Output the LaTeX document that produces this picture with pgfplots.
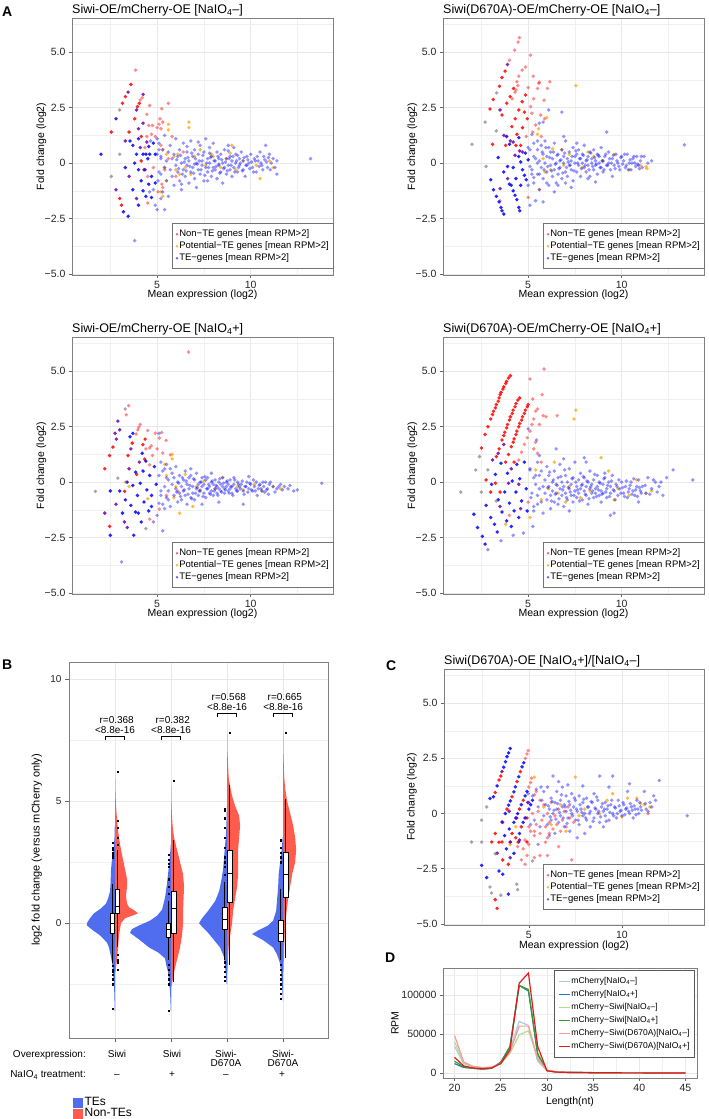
\documentclass[border=0pt]{standalone}
\usepackage{fontspec}
\setmainfont{Liberation Sans}
\usepackage{pgfplots}
\pgfplotsset{compat=1.18}
\usepgfplotslibrary{statistics}
\definecolor{ptred}{RGB}{255,0,0}
\definecolor{ptorange}{RGB}{255,165,0}
\definecolor{ptblue}{RGB}{0,0,255}
\definecolor{ptpurple}{RGB}{110,0,170}
\definecolor{ptgray}{RGB}{135,125,135}
\definecolor{tesblue}{RGB}{79,109,238}
\definecolor{ntered}{RGB}{255,92,77}
\definecolor{dA}{HTML}{A6CEE3}
\definecolor{dB}{HTML}{1F78B4}
\definecolor{dC}{HTML}{B2DF8A}
\definecolor{dD}{HTML}{33A02C}
\definecolor{dE}{HTML}{FB9A99}
\definecolor{dF}{HTML}{E31A1C}
\pgfplotsset{
  gg/.style={scale only axis, anchor=south west,
    axis line style={black!50, line width=0.6pt},
    tick style={black!60, line width=0.5pt}, major tick length=3pt, minor tick length=0pt,
    tick align=outside, xtick pos=left, ytick pos=left,
    major grid style={black!9, line width=0.6pt}, minor grid style={black!6, line width=0.3pt},
    ticklabel style={font=\fontsize{10.5}{12}\selectfont, text=black!85},
    label style={font=\fontsize{10.5}{12}\selectfont},
    every axis title/.style={at={(axis description cs:0,1)}, anchor=base west, yshift=4.5pt, inner sep=0pt, font=\fontsize{12.5}{14}\selectfont}},
  ma/.style={gg, width=261pt, height=257pt, xmin=0.45, xmax=14.4, ymin=-5.05, ymax=6.55,
    xtick={5,10}, xticklabels={5,10}, ytick={-5,-2.5,0,2.5,5}, yticklabels={−5.0,−2.5,0,2.5,5.0},
    minor xtick={2.5,7.5,12.5}, minor ytick={-3.75,-1.25,1.25,3.75,6.25}, grid=both,
    xlabel={Mean expression (log2)}, ylabel={Fold change (log2)},
    xlabel style={at={(axis description cs:0.5,-0.078)}, anchor=center},
    ylabel style={at={(axis description cs:-0.117,0.5)}, anchor=center},
    legend cell align=left,
    legend style={at={(axis description cs:1,0)}, anchor=south east, yshift=6pt, draw=black!55, line width=0.5pt,
      font=\fontsize{9.5}{11}\selectfont, inner xsep=3pt, inner ysep=5pt, row sep=1pt,
      nodes={inner sep=1pt, text height=7pt, text depth=2pt}}},
  ptR/.style={only marks, mark=*, mark size=1.9pt, mark options={draw opacity=0, fill=ptred, fill opacity=0.45}, forget plot},
  ptRd/.style={only marks, mark=*, mark size=1.9pt, mark options={draw opacity=0, fill=ptred, fill opacity=0.85}, forget plot},
  ptO/.style={only marks, mark=*, mark size=1.9pt, mark options={draw opacity=0, fill=ptorange, fill opacity=0.75}, forget plot},
  ptB/.style={only marks, mark=*, mark size=1.9pt, mark options={draw opacity=0, fill=ptblue, fill opacity=0.42}, forget plot},
  ptBd/.style={only marks, mark=*, mark size=1.9pt, mark options={draw opacity=0, fill=ptblue, fill opacity=0.85}, forget plot},
  ptP/.style={only marks, mark=*, mark size=1.9pt, mark options={draw opacity=0, fill=ptpurple, fill opacity=0.85}, forget plot},
  ptG/.style={only marks, mark=*, mark size=1.9pt, mark options={draw opacity=0, fill=ptgray, fill opacity=0.7}, forget plot},
  bxp/.style={black, line width=0.6pt, mark=square*, mark size=0.6pt, mark options={fill=black, draw=black, line width=0.2pt},
    boxplot/draw direction=y, boxplot/box extend=0.08, boxplot/whisker extend=0,
    boxplot/every box/.style={draw=black, fill=white}, forget plot},
}
\newcommand{\malegend}{%
  \addlegendimage{only marks, mark=*, mark size=1.3pt, mark options={draw opacity=0, fill=ptred, fill opacity=0.6}}
  \addlegendentry{Non−TE genes [mean RPM>2]}
  \addlegendimage{only marks, mark=*, mark size=1.3pt, mark options={draw opacity=0, fill=ptorange, fill opacity=0.8}}
  \addlegendentry{Potential−TE genes [mean RPM>2]}
  \addlegendimage{only marks, mark=*, mark size=1.3pt, mark options={draw opacity=0, fill=ptblue, fill opacity=0.6}}
  \addlegendentry{TE−genes [mean RPM>2]}}
\begin{document}
\begin{tikzpicture}
\useasboundingbox (0pt,0pt) rectangle (709pt,1119pt);
\node[anchor=base west, inner sep=0pt, font=\fontsize{14}{16}\selectfont\bfseries] at (2pt,1102pt) {A};
\node[anchor=base west, inner sep=0pt, font=\fontsize{14}{16}\selectfont\bfseries] at (2pt,449pt) {B};
\node[anchor=base west, inner sep=0pt, font=\fontsize{14}{16}\selectfont\bfseries] at (386pt,448pt) {C};
\node[anchor=base west, inner sep=0pt, font=\fontsize{14}{16}\selectfont\bfseries] at (385pt,156pt) {D};

% ===== A1 =====
\begin{axis}[ma, at={(72pt,844pt)}, title={Siwi-OE/mCherry-OE [NaIO\textsubscript{4}–]}]
\malegend
\addplot[ptR] coordinates {(3.85,4.2)(4.1,2.85)(4.2,2.95)(4.45,2.2)(4.55,1.7)(4.6,2.6)(4.7,1.3)(4.75,1.7)(4.9,1.2)(5.0,1.6)(5.1,1.75)(5.15,2.0)(5.2,1.55)(5.25,2.45)(5.3,1.85)(5.6,2.7)(5.3,-1.1)(5.25,-0.95)(4.5,-1.8)(4.45,1.2)(4.35,0.7)(4.5,-0.6)(4.8,-0.2)(5.2,0.8)(5.05,-1.3)(5.4,-0.3)(5.6,0.2)(6.0,-0.6)(6.4,0.5)(5.8,1.2)};
\addplot[ptRd] coordinates {(2.55,1.4)(3.15,2.7)(3.3,3.0)(3.6,3.55)(3.5,1.4)(3.8,2.0)(3.0,-1.6)(3.1,-1.9)(4.15,0.1)(4.05,2.7)(3.95,2.55)(4.15,1.2)};
\addplot[ptO] coordinates {(5.3,0.6)(5.4,-0.2)(5.5,0.4)(5.6,1.5)(5.6,1.75)(6.7,1.85)(6.7,1.6)(5.3,-1.5)(5.2,-1.3)(5.9,0.3)(6.2,-0.5)(6.5,-0.2)(6.8,-0.5)(7.0,0.3)(7.3,0.6)(7.6,-0.1)(8.0,0.3)(8.4,-0.2)(8.7,0.2)(9.0,0.8)(9.2,-0.3)(9.6,0.1)(10.3,-0.1)(10.5,-0.7)(11.2,-0.2)(11.0,0.1)(5.5,-0.8)(6.1,0.4)(8.9,0.45)(7.9,0.4)(6.0,-0.3)};
\addplot[ptB] coordinates {(3.8,-3.5)(5.0,-2.1)(4.9,-1.9)(5.0,1.1)(5.1,0.6)(5.1,-0.4)(5.2,-1.6)(5.4,1.25)(5.05,-0.8)(5.2,0.2)(5.0,0.4)(4.8,-1.2)(4.6,-1.3)(4.65,1.0)
(5.1,0.9)(5.2,-0.5)(5.2,0.3)(5.3,-1.3)(5.3,0.6)(5.4,-0.2)(5.4,-2.1)(5.5,0.1)(5.5,-0.8)(5.6,0.5)(5.6,-1.5)(5.7,-0.3)(5.7,0.8)(5.8,0.2)(5.8,-0.6)(5.9,-1.0)(5.9,0.4)(6.0,-0.1)(6.0,1.1)(6.1,-0.4)(6.1,0.3)(6.2,-0.8)(6.2,0.6)(6.3,0.0)(6.3,-1.2)(6.4,0.9)(6.4,-0.3)(6.5,0.2)(6.5,-0.6)(6.6,-0.1)(6.6,0.5)(6.7,-0.9)(6.7,0.1)(6.8,-0.4)(6.8,1.0)(6.9,0.3)(6.9,-0.2)(7.0,-0.7)(7.0,0.6)(7.1,0.0)(7.1,-1.1)(7.2,0.4)(7.2,-0.3)(7.3,0.8)(7.3,-0.5)(7.4,0.1)(7.4,-0.1)(7.5,-0.8)(7.5,0.5)(7.6,1.1)(7.6,-0.2)(7.7,0.2)(7.7,-0.4)(7.8,0.0)(7.8,0.7)(7.9,-0.6)(7.9,0.3)(8.0,-0.2)(8.0,0.9)(8.1,0.1)(8.1,-0.3)(8.2,0.5)(8.2,-0.7)(8.3,-0.1)(8.3,0.2)(8.4,-0.4)(8.4,0.4)(8.5,0.0)(8.5,-0.9)(8.6,0.6)(8.6,-0.2)(8.7,0.2)(8.7,-0.5)(8.8,0.8)(8.8,-0.1)(8.9,0.3)(8.9,-0.3)(9.0,-0.6)(9.0,0.1)(9.1,0.7)(9.1,-0.2)(9.2,0.0)(9.2,0.4)(9.3,-0.4)(9.4,0.2)(9.4,-0.1)(9.5,0.5)(9.6,-0.3)(9.6,0.1)(9.7,-0.6)(9.8,0.3)(9.8,-0.1)(9.9,0.0)(10.0,0.4)(10.1,-0.2)(10.2,0.2)(10.3,-0.4)(10.4,0.1)(10.5,0.5)(10.6,-0.1)(10.7,0.3)(10.8,0.8)(10.9,-0.2)(11.0,0.4)(11.1,0.0)(11.2,0.2)(11.3,-0.2)(11.4,-0.5)(11.4,0.1)(13.2,0.2)
(6.05,0.15)(6.15,-0.25)(6.25,0.35)(6.35,-0.5)(6.45,0.05)(6.55,-0.35)(6.65,0.25)(6.75,-0.15)(6.85,0.45)(6.95,-0.45)(7.05,0.2)(7.15,-0.05)(7.25,0.1)(7.35,-0.3)(7.45,0.35)(7.55,-0.55)(7.65,0.0)(7.75,-0.2)(7.85,0.25)(7.95,-0.35)(8.05,0.1)(8.15,-0.15)(8.25,0.3)(8.35,-0.45)(8.45,0.15)(8.55,-0.25)(8.65,0.05)(8.75,-0.35)(8.85,0.2)(8.95,-0.1)(9.05,0.3)(9.15,-0.4)(9.25,0.1)(9.35,-0.2)(9.45,0.0)(9.55,-0.35)(9.65,0.25)(9.75,-0.1)(9.85,0.15)(9.95,-0.25)(10.05,0.05)(10.15,-0.4)(10.25,0.1)(10.35,0.3)(10.45,-0.15)(10.55,0.0)(10.65,-0.3)(10.75,0.15)(10.85,0.05)(10.95,0.25)(11.05,-0.3)(7.0,-0.05)(7.8,0.45)(8.3,-0.05)(8.8,0.55)(9.3,0.35)(6.6,0.75)(7.2,0.95)(6.3,-0.95)(7.7,-0.8)};
\addplot[ptBd] coordinates {(2.0,0.4)(2.8,2.0)(3.2,-2.2)(3.3,-0.2)(3.45,-2.4)(3.8,0.0)(3.9,0.4)(4.0,1.1)(4.0,-0.3)(4.0,-1.9)(4.15,-0.8)(4.25,0.4)(4.25,-1.25)(4.4,0.4)(4.4,-1.5)(4.5,0.2)(4.55,-0.95)(4.6,0.4)(4.7,-0.6)(4.7,-1.55)(4.8,0.9)(4.9,0.4)(4.9,-0.9)(3.7,-1.2)(3.55,1.0)(3.7,0.8)(4.35,-0.3)(4.55,0.75)};
\addplot[ptP] coordinates {(2.8,-1.2)(3.45,3.2)(3.3,1.0)(3.5,-0.6)(3.9,2.4)(3.9,-1.6)(4.25,3.1)(4.25,1.8)(4.0,1.55)(4.3,-0.3)(4.45,0.95)(4.1,0.7)};
\addplot[ptG] coordinates {(2.55,-0.6)(3.0,2.4)(3.0,0.4)};
\end{axis}

% ===== A2 =====
\begin{axis}[ma, at={(443pt,844pt)}, title={Siwi(D670A)-OE/mCherry-OE [NaIO\textsubscript{4}–]}]
\malegend
\addplot[ptR] coordinates {(4.0,4.64)(4.28,5.1)(4.46,5.46)(4.53,5.66)(4.4,3.67)(4.5,3.92)(4.68,4.2)(4.86,4.34)(5.0,3.41)(5.13,4.87)(5.27,3.92)(5.13,2.55)(5.3,2.9)(5.5,3.37)(5.58,3.6)(5.4,1.72)(5.67,2.17)(5.85,2.84)(6.03,3.37)(6.16,3.67)(5.88,2.0)(5.7,1.2)(3.5,-1.7)(5.0,-1.55)(5.6,3.65)(5.2,2.25)(5.25,1.4)(4.9,1.2)(4.3,3.2)(4.15,2.9)(4.45,3.5)(4.35,3.3)};
\addplot[ptRd] coordinates {(3.14,2.87)(3.47,3.47)(3.6,3.86)(3.77,4.15)(2.96,2.44)(3.1,0.85)(3.6,2.17)(3.86,2.7)(4.04,3.0)(4.22,3.37)(4.31,2.0)(4.5,2.4)(4.68,2.77)(4.86,3.07)(4.35,0.8)(4.4,1.3)(4.7,1.6)(4.95,2.0)(4.6,0.8)(4.13,1.65)(3.8,0.8)(4.8,2.3)};
\addplot[ptO] coordinates {(6.0,2.05)(5.55,1.55)(5.5,1.3)(7.55,3.5)(6.3,0.65)(6.8,0.6)(7.2,0.4)(5.8,0.2)(6.2,-0.3)(8.5,0.3)(9.0,0.1)(11.0,-0.1)(11.3,-0.15)(11.35,-0.25)(10.4,-0.3)(7.9,-0.2)(5.6,-1.2)(6.9,-0.1)(9.6,0.4)(5.9,-0.4)(8.2,0.5)};
\addplot[ptB] coordinates {(5.0,-1.0)(5.1,-0.15)(5.2,-0.5)(5.3,-0.65)(5.4,-1.7)(5.8,-1.75)(5.0,0.7)(5.3,0.3)(5.5,0.0)(6.1,2.4)(6.8,2.3)(5.8,1.85)(9.2,1.4)(13.35,0.82)(5.6,1.8)(5.5,1.0)(5.2,1.3)(5.1,-1.9)
(5.1,0.6)(5.2,-0.3)(5.3,0.9)(5.3,-0.9)(5.4,0.2)(5.5,-0.5)(5.5,0.6)(5.6,-1.2)(5.6,0.1)(5.7,0.8)(5.7,-0.2)(5.8,-0.7)(5.8,0.4)(5.9,0.0)(5.9,1.0)(6.0,-0.4)(6.0,0.3)(6.1,-1.0)(6.1,0.7)(6.2,-0.1)(6.2,0.5)(6.3,-0.6)(6.3,0.2)(6.4,-0.3)(6.4,0.9)(6.5,0.0)(6.5,-0.9)(6.6,0.4)(6.6,-0.5)(6.7,0.1)(6.7,-0.2)(6.8,0.6)(6.8,-0.7)(6.9,0.0)(6.9,0.3)(7.0,-0.4)(7.0,1.0)(7.1,0.2)(7.1,-0.6)(7.2,-0.1)(7.2,0.5)(7.3,-0.3)(7.3,0.1)(7.4,0.7)(7.4,-0.8)(7.5,0.0)(7.5,0.3)(7.6,-0.4)(7.6,0.4)(7.7,-0.1)(7.7,0.6)(7.8,0.2)(7.8,-0.6)(7.9,0.0)(7.9,0.4)(8.0,-0.2)(8.0,0.8)(8.1,0.1)(8.1,-0.4)(8.2,0.3)(8.2,-0.1)(8.3,-0.6)(8.3,0.5)(8.4,0.0)(8.4,0.2)(8.5,-0.3)(8.5,0.6)(8.6,0.1)(8.6,-0.1)(8.7,0.4)(8.7,-0.5)(8.8,0.0)(8.8,0.3)(8.9,-0.2)(8.9,0.7)(9.0,0.1)(9.0,-0.4)(9.1,0.3)(9.2,-0.1)(9.3,0.5)(9.3,0.0)(9.4,-0.3)(9.5,0.2)(9.6,-0.1)(9.7,0.4)(9.8,0.0)(9.9,-0.3)(10.0,0.3)(10.1,0.1)(10.2,-0.2)(10.3,0.4)(10.4,0.0)(10.5,-0.3)(10.6,0.2)(10.7,0.0)(10.8,0.3)(10.9,-0.1)(11.0,0.1)(11.1,-0.2)(11.2,0.3)(11.4,0.0)(11.6,0.1)(7.0,-0.9)(6.6,-1.0)(6.0,-0.9)(8.2,-0.7)(9.5,-0.6)
(6.05,-0.15)(6.15,0.25)(6.25,-0.35)(6.35,0.5)(6.45,-0.05)(6.55,0.35)(6.65,-0.25)(6.75,0.15)(6.85,-0.45)(6.95,0.45)(7.05,-0.2)(7.15,0.05)(7.25,-0.1)(7.35,0.3)(7.45,-0.35)(7.55,0.55)(7.65,0.0)(7.75,0.2)(7.85,-0.25)(7.95,0.35)(8.05,-0.1)(8.15,0.15)(8.25,-0.3)(8.35,0.45)(8.45,-0.15)(8.55,0.25)(8.65,-0.05)(8.75,0.35)(8.85,-0.2)(8.95,0.1)(9.05,-0.3)(9.15,0.4)(9.25,-0.1)(9.35,0.2)(9.45,0.0)(9.55,0.35)(9.65,-0.25)(9.75,0.1)(9.85,-0.15)(9.95,0.25)(10.05,-0.05)(10.15,0.4)(10.25,-0.1)(10.35,-0.3)(10.45,0.15)(10.55,0.0)(10.65,0.3)(10.75,-0.15)(10.85,-0.05)(10.95,-0.25)(11.05,0.3)(6.4,-1.3)(7.3,-1.1)(8.6,-0.85)(6.9,1.2)(7.6,0.9)(5.6,-0.5)(5.75,0.5)(5.85,-0.3)(5.95,0.7)};
\addplot[ptBd] coordinates {(3.0,-0.75)(3.15,-1.2)(3.3,-1.5)(3.45,-1.75)(3.55,-2.0)(3.6,-2.15)(3.7,-2.3)(3.4,0.25)(3.7,-0.4)(3.85,1.2)(4.0,0.85)(3.9,-0.15)(4.0,-0.95)(4.1,-1.0)(4.2,-1.25)(4.3,-1.45)(4.4,-1.65)(4.5,-2.0)(4.55,-2.15)(4.5,0.3)(4.6,0.05)(4.7,-0.3)(4.8,-0.55)(4.9,-0.75)(4.5,1.15)(4.85,0.45)(5.0,0.15)(4.2,-0.2)(4.35,-0.7)(4.6,-1.0)};
\addplot[ptP] coordinates {(3.9,4.45)(3.5,2.4)(3.7,1.25)(4.05,1.0)(4.2,0.95)(4.55,0.55)(4.7,0.5)(3.5,-1.15)(4.3,0.35)(3.9,-0.7)};
\addplot[ptG] coordinates {(2.0,0.85)(2.7,1.85)(2.75,-0.15)(3.3,1.45)(3.32,3.17)};
\end{axis}

% ===== A3 =====
\begin{axis}[ma, at={(72pt,525pt)}, title={Siwi-OE/mCherry-OE [NaIO\textsubscript{4}+]}]
\malegend
\addplot[ptR] coordinates {(3.35,3.04)(3.48,3.45)(3.88,2.17)(4.02,2.48)(4.1,2.6)(3.97,2.36)(4.5,2.33)(4.6,1.54)(4.68,1.64)(4.9,2.21)(5.12,1.99)(5.25,2.24)(5.48,1.88)(5.71,1.23)(5.3,1.31)(4.6,0.78)(6.68,5.87)(4.6,-1.67)(5.12,-1.22)(4.75,1.2)(5.0,1.5)(4.4,1.5)(5.5,-0.6)(6.1,-0.4)};
\addplot[ptRd] coordinates {(2.2,0.6)(2.46,1.2)(2.64,1.58)(2.46,-2.0)(3.44,1.2)(3.67,1.76)(4.24,1.69)(4.36,1.94)(4.33,1.04)(3.26,-0.42)(3.9,0.35)};
\addplot[ptO] coordinates {(5.8,1.25)(5.8,1.05)(5.4,0.8)(5.5,0.3)(6.0,-0.2)(5.9,-0.7)(6.2,-1.4)(6.9,-1.1)(6.5,0.35)(7.1,-0.2)(7.5,0.05)(8.1,-0.3)(8.5,0.2)(9.3,-0.2)(9.6,-0.35)(10.2,-0.1)(10.6,-0.4)(11.2,-0.2)(11.6,-0.3)(3.3,0.0)(3.5,-0.2)(4.5,-0.75)(7.3,-0.35)};
\addplot[ptB] coordinates {(3.1,-3.6)(4.8,-1.8)(5.1,-0.95)(5.1,2.2)(5.3,-2.2)(5.0,-1.5)(5.2,0.9)(5.2,-0.4)(5.4,0.6)(5.4,-1.2)(5.5,0.2)(5.6,-0.8)(13.8,-0.05)
(5.1,0.3)(5.2,-0.6)(5.3,0.5)(5.3,-1.0)(5.4,-0.2)(5.5,0.8)(5.5,-0.7)(5.6,0.1)(5.6,-0.4)(5.7,0.6)(5.7,-1.1)(5.8,-0.1)(5.8,0.4)(5.9,-0.6)(5.9,0.2)(6.0,-0.3)(6.0,0.7)(6.1,-0.9)(6.1,0.0)(6.2,-0.5)(6.2,0.3)(6.3,-0.2)(6.3,-0.8)(6.4,0.1)(6.4,-0.4)(6.5,0.5)(6.5,-0.6)(6.6,-0.1)(6.6,-1.0)(6.7,0.2)(6.7,-0.3)(6.8,-0.7)(6.8,0.3)(6.9,-0.2)(6.9,-0.5)(7.0,0.1)(7.0,-0.8)(7.1,-0.3)(7.1,0.4)(7.2,-0.1)(7.2,-0.6)(7.3,0.0)(7.3,-0.4)(7.4,-0.2)(7.4,0.2)(7.5,-0.5)(7.5,-0.1)(7.6,0.1)(7.6,-0.7)(7.7,-0.3)(7.7,0.2)(7.8,-0.2)(7.8,-0.5)(7.9,0.0)(7.9,-0.4)(8.0,-0.1)(8.0,-0.6)(8.1,-0.3)(8.1,0.1)(8.2,-0.2)(8.2,-0.5)(8.3,0.0)(8.3,-0.3)(8.4,-0.4)(8.4,-0.1)(8.5,-0.2)(8.5,0.2)(8.6,-0.5)(8.6,-0.3)(8.7,0.0)(8.7,-0.2)(8.8,-0.4)(8.8,-0.1)(8.9,-0.3)(8.9,0.1)(9.0,-0.2)(9.0,-0.5)(9.1,-0.1)(9.2,-0.3)(9.3,0.0)(9.3,-0.4)(9.4,-0.2)(9.5,-0.1)(9.6,-0.4)(9.6,-1.0)(9.7,-0.2)(9.8,0.0)(9.9,-0.3)(10.0,-0.1)(10.1,-0.4)(10.2,-0.2)(10.3,0.0)(10.4,-0.3)(10.5,-0.1)(10.6,-0.4)(10.7,-0.2)(10.8,0.0)(10.9,-0.3)(11.0,-0.1)(11.2,-0.2)(11.4,-0.3)(11.6,-0.1)(11.8,-0.2)(12.0,-0.3)(12.3,-0.4)(9.1,0.2)(7.9,0.4)
(6.05,-0.45)(6.15,-0.05)(6.25,-0.65)(6.35,0.2)(6.45,-0.35)(6.55,0.05)(6.65,-0.55)(6.75,-0.15)(6.85,-0.75)(6.95,0.15)(7.05,-0.5)(7.15,-0.25)(7.25,-0.4)(7.35,0.0)(7.45,-0.65)(7.55,0.25)(7.65,-0.3)(7.75,-0.1)(7.85,-0.55)(7.95,0.05)(8.05,-0.4)(8.15,-0.15)(8.25,-0.6)(8.35,0.15)(8.45,-0.45)(8.55,-0.05)(8.65,-0.35)(8.75,0.05)(8.85,-0.5)(8.95,-0.2)(9.05,-0.6)(9.15,0.1)(9.25,-0.4)(9.35,-0.1)(9.45,-0.3)(9.55,0.05)(9.65,-0.55)(9.75,-0.2)(9.85,-0.45)(9.95,-0.05)(10.05,-0.35)(10.15,0.1)(10.25,-0.4)(10.35,-0.6)(10.45,-0.15)(10.55,-0.3)(10.65,0.0)(10.75,-0.45)(10.85,-0.35)(10.95,-0.55)(11.05,0.0)(11.3,-0.45)(11.5,-0.2)(11.7,-0.35)(12.1,-0.15)(12.5,-0.35)(7.4,-1.0)(8.3,-0.9)(6.8,0.6)(9.9,0.25)};
\addplot[ptBd] coordinates {(2.5,-0.4)(2.5,-2.4)(3.0,-0.4)(3.15,-1.4)(3.3,-0.8)(3.6,-1.05)(3.7,-0.15)(3.75,-2.4)(3.85,0.45)(3.85,-1.35)(3.95,-0.6)(4.1,-0.05)(4.15,-1.8)(4.25,0.5)(4.3,-0.9)(4.4,0.95)(4.45,-0.35)(4.55,-1.3)(4.6,0.3)(4.7,-0.6)(4.85,0.7)(4.95,-0.1)(3.7,2.2)(3.55,2.05)(4.0,-1.4)(4.7,-1.1)(4.2,1.3)(3.4,0.0)};
\addplot[ptP] coordinates {(2.82,1.94)(2.9,2.75)(2.75,2.2)(3.0,2.36)(2.2,-1.4)(2.8,-1.0)(3.25,-1.8)(3.4,-2.05)(3.5,0.6)(4.05,0.9)(3.6,1.5)};
\addplot[ptG] coordinates {(1.7,-0.42)(2.9,0.18)(3.3,3.3)(4.4,-2.1)};
\end{axis}

% ===== A4 =====
\begin{axis}[ma, at={(443pt,525pt)}, title={Siwi(D670A)-OE/mCherry-OE [NaIO\textsubscript{4}+]}]
\malegend
\addplot[ptR] coordinates {(4.5,1.0)(4.65,1.35)(4.8,1.7)(4.95,2.0)(5.1,2.3)(5.2,2.6)(5.3,2.85)(5.4,3.2)(5.85,5.1)(5.1,4.65)(5.25,3.75)(5.8,3.0)(5.95,2.95)(6.55,3.0)(5.75,3.95)(5.6,2.6)(5.3,1.5)(5.5,1.3)(5.7,0.9)(5.0,-0.9)(4.0,-1.5)(5.5,3.3)(5.4,1.8)};
\addplot[ptRd] coordinates {(2.51,1.54)(2.7,2.15)(2.85,2.5)(3.0,2.85)(3.1,3.05)(3.15,3.2)(3.25,3.35)(3.3,3.5)(3.4,3.65)(3.45,3.8)(3.5,3.95)(3.55,4.05)(3.65,4.2)(3.7,4.3)(3.8,4.45)(3.85,4.55)(3.95,4.7)(4.05,4.8)
(3.3,1.15)(3.45,1.5)(3.6,1.9)(3.7,2.1)(3.75,2.25)(3.85,2.45)(3.9,2.6)(4.0,2.8)(4.05,2.95)(4.15,3.1)(4.2,3.25)(4.3,3.4)(4.35,3.55)(4.45,3.7)(4.55,3.8)
(3.8,0.9)(3.95,1.25)(4.1,1.6)(4.2,1.8)(4.25,1.95)(4.35,2.15)(4.4,2.3)(4.5,2.5)(4.55,2.65)(4.65,2.8)(4.7,2.95)(4.8,3.1)(4.85,3.25)(4.95,3.4)(5.0,3.5)
(2.75,0.1)(3.25,-0.05)(3.5,-0.45)(3.0,-0.45)(4.25,0.9)};
\addplot[ptO] coordinates {(7.55,3.25)(7.45,2.85)(8.9,1.1)(6.4,0.9)(5.4,0.55)(5.7,-0.8)(3.8,-1.9)(5.1,-1.6)(6.6,-0.5)(7.2,-0.2)(7.8,-0.7)(8.3,-0.4)(9.3,0.5)(9.8,-0.3)(10.4,-0.6)(11.3,-0.5)(11.6,-0.4)(9.6,-0.8)(10.8,0.1)(6.1,-0.3)(7.0,-0.9)};
\addplot[ptB] coordinates {(2.85,-3.05)(3.55,-2.65)(4.75,-2.3)(5.0,2.4)(5.1,0.55)(5.15,-0.7)(5.25,-2.0)(5.45,1.9)(5.5,-1.0)(5.6,1.2)(6.5,1.5)(4.2,-2.4)(12.75,0.55)(13.8,0.1)(5.3,-1.3)(5.4,0.3)
(5.1,0.6)(5.2,-0.5)(5.3,0.2)(5.3,-1.1)(5.4,-0.1)(5.5,0.9)(5.5,-0.6)(5.6,0.3)(5.6,-0.3)(5.7,-0.9)(5.7,0.5)(5.8,-0.2)(5.8,-1.4)(5.9,0.1)(5.9,-0.5)(6.0,0.7)(6.0,-0.8)(6.1,-0.2)(6.1,0.3)(6.2,-0.6)(6.2,-1.2)(6.3,0.0)(6.3,-0.4)(6.4,0.5)(6.4,-0.9)(6.5,-0.1)(6.5,-0.5)(6.6,0.2)(6.6,-1.0)(6.7,-0.3)(6.7,0.8)(6.8,-0.6)(6.8,0.0)(6.9,-0.2)(6.9,-1.1)(7.0,0.3)(7.0,-0.5)(7.1,-0.8)(7.1,0.0)(7.2,-0.3)(7.2,0.6)(7.3,-0.6)(7.3,-0.1)(7.4,0.2)(7.4,-0.9)(7.5,-0.4)(7.5,0.9)(7.6,-0.2)(7.6,-0.7)(7.7,0.1)(7.7,-0.5)(7.8,-0.3)(7.8,0.4)(7.9,-0.8)(7.9,-0.1)(8.0,-0.4)(8.0,0.2)(8.1,-0.6)(8.1,-0.2)(8.2,0.0)(8.2,-1.0)(8.3,-0.3)(8.3,0.5)(8.4,-0.5)(8.4,-0.1)(8.5,-0.7)(8.5,0.1)(8.6,-0.3)(8.6,-0.5)(8.7,0.3)(8.7,-0.2)(8.8,-0.6)(8.8,0.0)(8.9,-0.4)(8.9,-0.9)(9.0,-0.1)(9.0,-0.5)(9.1,0.2)(9.2,-0.3)(9.2,-0.7)(9.3,0.0)(9.4,-0.5)(9.4,-0.2)(9.5,0.3)(9.6,-0.4)(9.7,-0.1)(9.8,-0.6)(9.9,-0.3)(10.0,0.0)(10.1,-0.5)(10.2,-0.2)(10.3,-0.7)(10.4,-0.3)(10.5,0.0)(10.6,-0.4)(10.7,-0.6)(10.8,-0.2)(10.9,0.1)(11.0,-0.4)(11.1,-0.2)(11.3,-0.5)(11.4,0.2)(11.6,-0.3)(11.8,0.0)(12.0,-0.2)(12.2,-0.6)(12.4,0.2)(9.6,-1.4)(7.2,-1.3)(8.1,0.9)(9.1,0.4)
(6.05,-0.25)(6.15,0.45)(6.25,-0.85)(6.35,0.1)(6.45,-0.55)(6.55,-0.15)(6.65,-0.75)(6.75,0.25)(6.85,-0.35)(6.95,0.55)(7.05,-0.7)(7.15,-0.25)(7.25,-0.45)(7.35,0.15)(7.45,-0.6)(7.55,0.0)(7.65,-0.35)(7.75,-0.85)(7.85,-0.15)(7.95,0.25)(8.05,-0.55)(8.15,0.05)(8.25,-0.75)(8.35,-0.2)(8.45,-0.4)(8.55,0.35)(8.65,-0.65)(8.75,-0.35)(8.85,-0.05)(8.95,-0.55)(9.05,0.15)(9.15,-0.45)(9.25,-0.15)(9.35,-0.65)(9.45,0.05)(9.55,-0.35)(9.65,-0.8)(9.75,-0.2)(9.85,0.1)(9.95,-0.5)(10.05,-0.25)(10.15,-0.65)(10.25,0.05)(10.35,-0.45)(10.45,-0.15)(10.55,-0.55)(10.65,0.15)(10.75,-0.35)(10.85,-0.65)(10.95,-0.25)(11.05,-0.5)(11.25,-0.15)(11.5,-0.55)(11.7,0.1)(11.9,-0.45)(12.1,0.0)(6.9,1.05)(8.0,1.1)(9.4,-1.5)(10.9,-0.9)};
\addplot[ptBd] coordinates {(2.1,-1.45)(2.3,-2.05)(2.55,-2.45)(2.7,-2.8)(2.75,-1.05)(3.0,-1.6)(3.2,-1.9)(3.35,-2.25)(3.05,-0.1)(3.25,0.35)(3.4,-0.8)(3.55,0.85)(3.6,-1.35)(3.75,-0.45)(3.85,-1.75)(3.9,0.4)(4.0,-0.95)(4.1,-2.0)(4.15,0.05)(4.25,-1.3)(4.35,-0.45)(4.4,0.8)(4.5,-1.6)(4.55,0.15)(4.65,-0.85)(4.9,-0.3)(4.95,-1.3)(4.8,0.9)};
\addplot[ptP] coordinates {(3.1,1.0)(3.4,1.3)(3.7,1.7)(3.95,-0.05)(4.1,0.6)(4.5,-0.1)(4.6,-1.2)(3.5,-1.1)};
\addplot[ptG] coordinates {(1.4,-0.45)(2.2,0.55)(2.5,-0.45)(2.4,1.15)(2.85,0.55)(3.3,-0.85)};
\end{axis}

% ===== C =====
\begin{axis}[ma, at={(444pt,194pt)}, width=260pt, height=256pt, title={Siwi(D670A)-OE [NaIO\textsubscript{4}+]/[NaIO\textsubscript{4}–]},
  xlabel style={at={(axis description cs:0.5,-0.08)}, anchor=center}, ylabel style={at={(axis description cs:-0.123,0.5)}, anchor=center}, legend style={yshift=9pt}]
\malegend
\addplot[ptR] coordinates {(4.9,2.7)(4.96,2.85)(4.82,2.5)(5.15,1.6)(5.1,1.4)(5.0,1.2)(5.3,0.85)(5.4,1.0)(4.8,-1.2)(4.9,-1.9)(5.0,-1.4)(5.1,-0.8)(5.3,-1.0)(4.7,-1.6)(4.4,-1.5)(4.6,-2.1)(5.6,-1.9)(6.0,-1.9)(5.3,-2.0)(4.8,-2.3)
(5.4,-0.5)(5.5,0.1)(5.6,-0.9)(5.7,-0.3)(5.8,0.4)(5.9,-0.6)(6.0,0.0)(6.1,-0.4)(6.2,0.5)(6.3,-0.7)(6.4,-0.1)(6.5,-0.5)(6.6,0.2)(6.7,-0.8)(6.8,-0.3)(6.9,0.1)(7.0,-0.6)(7.2,-0.2)(7.4,-0.4)(5.9,-1.3)(6.6,-1.5)(7.3,-2.1)(5.6,0.6)(6.1,-0.9)(5.3,-0.8)(5.2,0.0)(11.4,0.0)(5.0,-0.6)(6.0,-1.1)(7.1,0.3)};
\addplot[ptRd] coordinates {(3.4,1.52)(3.5,1.7)(3.2,0.95)(4.1,0.76)(4.37,1.45)(4.55,1.9)(3.83,0.2)(4.5,0.2)(4.7,0.6)(3.2,-0.9)(3.4,-1.3)(3.6,-2.1)(3.9,-2.3)(4.1,-0.9)(4.3,-1.1)(4.0,-1.3)(3.2,-3.9)(3.3,-4.3)(4.6,-0.6)(4.9,-0.2)(3.01,-1.29)(3.56,-1.29)(4.9,-1.29)};
\addplot[ptO] coordinates {(5.3,1.65)(7.5,1.65)(9.2,0.6)(9.5,0.9)(10.3,0.7)(10.8,0.7)(11.0,0.45)(11.2,0.4)(8.0,0.2)(7.0,-0.8)(6.2,-0.5)(5.8,0.3)(4.4,-1.3)(4.0,-1.4)(4.3,-0.6)(7.7,-0.1)(8.8,0.0)(10.0,-0.15)(6.7,0.4)(11.5,0.3)};
\addplot[ptB] coordinates {(5.2,0.8)(5.3,-0.3)(5.4,1.1)(5.5,0.3)(5.6,-0.6)(5.7,0.6)(5.8,1.0)(5.8,-0.1)(5.9,0.4)(6.0,-0.5)(6.0,1.2)(6.1,0.2)(6.2,0.7)(6.2,-0.3)(6.3,0.0)(6.4,0.5)(6.4,-0.9)(6.5,1.0)(6.5,0.2)(6.6,-0.4)(6.7,0.6)(6.7,-0.1)(6.8,0.3)(6.8,1.2)(6.9,-0.6)(7.0,0.1)(7.0,0.8)(7.1,-0.2)(7.2,0.4)(7.2,-0.8)(7.3,0.0)(7.3,0.9)(7.4,0.3)(7.5,-0.3)(7.5,0.6)(7.6,0.1)(7.7,-0.5)(7.7,0.8)(7.8,0.2)(7.9,-0.1)(7.9,0.5)(8.0,0.0)(8.1,0.7)(8.1,-0.3)(8.2,0.3)(8.3,-0.6)(8.3,0.1)(8.4,0.5)(8.5,-0.2)(8.5,0.9)(8.6,0.2)(8.7,0.0)(8.7,0.6)(8.8,-0.4)(8.8,1.7)(8.9,0.3)(9.0,0.1)(9.1,-0.1)(9.1,0.5)(9.2,0.2)(9.3,-0.3)(9.4,0.4)(9.5,0.0)(9.5,1.7)(9.6,0.3)(9.7,-0.2)(9.8,0.6)(9.9,0.1)(10.0,-0.1)(10.1,0.4)(10.2,0.2)(10.3,1.0)(10.4,0.0)(10.5,0.3)(10.6,-0.2)(10.7,0.2)(10.8,0.6)(10.9,0.0)(11.0,0.3)(11.2,1.0)(11.3,0.2)(11.5,0.5)(11.7,0.8)(12.0,1.5)(13.5,-0.1)(6.3,1.7)(7.6,-1.1)(6.1,-1.0)(5.5,-1.4)(10.4,1.35)(9.0,-0.6)(6.9,0.4)(8.0,-0.9)(4.96,0.9)(5.1,-0.5)(5.0,0.5)
(6.05,0.35)(6.15,-0.15)(6.25,0.55)(6.35,0.15)(6.45,-0.25)(6.55,0.45)(6.65,0.05)(6.75,0.85)(6.85,-0.2)(6.95,0.3)(7.05,-0.45)(7.15,0.55)(7.25,0.15)(7.35,-0.1)(7.45,0.7)(7.55,0.2)(7.65,-0.3)(7.75,0.4)(7.85,0.05)(7.95,0.65)(8.05,-0.2)(8.15,0.3)(8.25,0.0)(8.35,0.55)(8.45,-0.35)(8.55,0.25)(8.65,0.75)(8.75,0.1)(8.85,-0.15)(8.95,0.45)(9.05,0.2)(9.15,-0.35)(9.25,0.35)(9.35,0.05)(9.45,0.6)(9.55,-0.1)(9.65,0.25)(9.75,0.0)(9.85,0.35)(9.95,0.15)(10.05,0.5)(10.15,-0.05)(10.25,0.25)(10.35,0.1)(10.45,0.45)(10.55,0.15)(10.65,0.35)(10.75,-0.05)(10.85,0.2)(10.95,0.5)(11.05,0.15)(11.25,0.45)(11.4,0.1)(11.6,0.3)(11.8,0.6)(5.65,1.2)(6.6,1.45)(7.1,1.3)(7.9,1.25)(9.3,1.2)};
\addplot[ptBd] coordinates {(3.1,0.76)(2.92,0.68)(3.3,1.25)(3.65,2.1)(3.75,2.35)(3.83,2.58)(3.92,2.75)(4.0,2.95)(3.74,0.0)(3.92,0.38)(4.01,0.57)(4.2,0.98)(4.28,1.21)(4.46,1.67)(4.64,2.12)(4.73,2.3)(4.2,-0.4)(4.3,-0.2)(4.4,0.0)(4.6,0.4)(4.8,0.8)(4.9,1.0)(4.7,-0.4)(4.8,-0.2)(5.0,0.2)(5.1,0.4)(5.2,0.6)(2.47,-2.35)(2.74,-2.9)(3.56,-0.38)(3.7,-1.0)(3.8,-1.6)(3.95,-0.7)(4.2,-1.8)(4.5,-0.9)(3.9,-3.65)(3.4,-2.6)(3.6,-2.75)};
\addplot[ptP] coordinates {(3.56,1.9)(3.6,-0.4)(3.95,0.1)(4.5,-1.2)(4.0,-2.0)(3.3,-1.8)(4.35,-0.2)(4.95,0.5)(4.0,-1.29)(4.46,-1.29)};
\addplot[ptG] coordinates {(1.93,-1.29)(2.47,-0.3)(2.74,0.3)(2.92,-3.33)(3.0,-3.6)(4.35,-3.2)(4.4,-3.45)(3.5,-3.7)(3.2,-1.82)(5.2,-2.15)(2.47,-1.29)};
\end{axis}

% ===== B =====
\begin{axis}[gg, at={(69pt,81pt)}, width=259pt, height=376pt, xmin=0.179, xmax=4.8, ymin=-4.71, ymax=10.7,
  xtick={1,2,3,4}, xticklabels={}, ytick={0,5,10}, yticklabels={0,5,10}, minor ytick={-2.5,2.5,7.5},
  xmajorgrids, ymajorgrids, yminorgrids, major tick length=4pt,
  ticklabel style={font=\fontsize{10}{12}\selectfont},
  ylabel={log2 fold change (versus mCherry only)},
  ylabel style={at={(axis description cs:-0.124,0.5)}, anchor=center, font=\fontsize{11}{13}\selectfont},
  legend cell align=left,
  legend style={at={(axis description cs:0,0)}, anchor=north west, xshift=4pt, yshift=-59pt, draw=none, fill=none, inner sep=0pt,
    font=\fontsize{12}{12}\selectfont, row sep=0pt, nodes={inner sep=0pt, text height=8.5pt, text depth=2.5pt},
    /tikz/every odd column/.append style={column sep=2pt}}]
\addlegendimage{legend image code/.code={\fill[tesblue] (0pt,-4.5pt) rectangle (9pt,4.5pt);}}
\addlegendentry{TEs}
\addlegendimage{legend image code/.code={\fill[ntered] (0pt,-4.5pt) rectangle (9pt,4.5pt);}}
\addlegendentry{Non-TEs}
\addplot[fill=tesblue, draw=none, forget plot] coordinates {(1,-3.6)(0.995,-3.6)(0.989,-3.0)(0.982,-2.5)(0.964,-2.0)(0.946,-1.6)(0.929,-1.4)(0.893,-1.0)(0.857,-0.8)(0.732,-0.5)(0.607,-0.3)(0.5,-0.1)(0.5,0.0)(0.554,0.2)(0.625,0.4)(0.75,0.6)(0.839,0.8)(0.875,1.0)(0.911,1.3)(0.92,1.6)(0.929,2.2)(0.946,2.6)(0.973,3.0)(0.991,3.5)(0.996,4.0)(1,4.0)};
\addplot[fill=ntered, draw=none, forget plot] coordinates {(1,-2.0)(1.009,-2.0)(1.036,-1.5)(1.054,-1.0)(1.071,-0.5)(1.107,0.0)(1.179,0.2)(1.304,0.3)(1.411,0.4)(1.357,0.5)(1.25,0.65)(1.214,0.8)(1.196,1.1)(1.214,1.5)(1.214,1.8)(1.179,2.2)(1.143,2.6)(1.107,3.0)(1.071,3.5)(1.045,4.0)(1.027,4.5)(1.014,5.0)(1.007,5.5)(1.002,6.2)(1,6.2)};
\addplot[fill=tesblue, draw=none, forget plot] coordinates {(2,-3.6)(1.995,-3.6)(1.982,-2.8)(1.964,-2.4)(1.946,-2.0)(1.911,-1.7)(1.893,-1.45)(1.768,-1.2)(1.607,-1.0)(1.446,-0.7)(1.268,-0.4)(1.3,-0.25)(1.43,-0.1)(1.625,0.1)(1.75,0.3)(1.839,0.55)(1.893,1.05)(1.92,1.5)(1.946,2.0)(1.964,2.4)(1.982,2.8)(1.995,3.2)(2,3.2)};
\addplot[fill=ntered, draw=none, forget plot] coordinates {(2,-2.6)(2.009,-2.6)(2.054,-2.0)(2.107,-1.5)(2.161,-1.0)(2.196,-0.5)(2.214,0.0)(2.214,0.5)(2.223,1.0)(2.232,1.5)(2.214,2.0)(2.161,2.5)(2.107,3.0)(2.054,3.5)(2.027,4.0)(2.014,4.5)(2.007,5.0)(2.002,5.8)(2,5.8)};
\addplot[fill=tesblue, draw=none, forget plot] coordinates {(3,-2.5)(2.991,-2.5)(2.973,-2.0)(2.946,-1.4)(2.875,-1.0)(2.768,-0.7)(2.661,-0.4)(2.554,-0.15)(2.5,0.0)(2.554,0.2)(2.661,0.5)(2.786,0.9)(2.857,1.3)(2.893,1.7)(2.929,2.2)(2.946,2.7)(2.964,3.2)(2.982,3.7)(2.991,4.3)(2.996,4.8)(3,4.8)};
\addplot[fill=ntered, draw=none, forget plot] coordinates {(3,-2.0)(3.005,-2.0)(3.027,-1.0)(3.054,-0.5)(3.089,0.0)(3.107,0.5)(3.143,1.0)(3.179,1.5)(3.196,2.0)(3.196,2.5)(3.196,3.0)(3.214,3.5)(3.232,4.0)(3.214,4.4)(3.143,4.8)(3.089,5.2)(3.054,5.6)(3.027,6.0)(3.007,7.0)(3.002,7.8)(3,7.8)};
\addplot[fill=tesblue, draw=none, forget plot] coordinates {(4,-3.2)(3.995,-3.2)(3.982,-2.6)(3.964,-2.0)(3.9375,-1.6)(3.893,-1.3)(3.821,-1.0)(3.643,-0.7)(3.446,-0.45)(3.554,-0.3)(3.732,-0.1)(3.821,0.1)(3.875,0.5)(3.893,1.0)(3.911,1.5)(3.92,2.0)(3.946,2.5)(3.973,3.0)(3.991,3.5)(4,3.5)};
\addplot[fill=ntered, draw=none, forget plot] coordinates {(4,-2.0)(4.005,-2.0)(4.018,-1.0)(4.027,-0.5)(4.036,0.0)(4.0625,0.5)(4.089,1.0)(4.125,1.5)(4.161,2.0)(4.214,2.5)(4.232,3.0)(4.214,3.5)(4.179,4.0)(4.125,4.5)(4.071,5.0)(4.036,5.5)(4.018,6.0)(4.005,7.0)(4.002,7.8)(4,7.8)};
\addplot[bxp, boxplot prepared={draw position=0.955, lower whisker=-1.65, lower quartile=-0.4, median=0, upper quartile=0.4, upper whisker=1.6}] coordinates {(0,2.7)(0,2.8)(0,2.9)(0,3.0)(0,3.1)(0,3.3)(0,-1.75)(0,-1.9)(0,-2.0)(0,-2.1)(0,-2.3)(0,-2.5)(0,-3.5)};
\addplot[bxp, boxplot prepared={draw position=1.045, lower whisker=-1.0, lower quartile=0.4, median=0.7, upper quartile=1.4, upper whisker=3.0}] coordinates {(0,3.2)(0,3.5)(0,3.9)(0,4.2)(0,6.2)(0,-1.3)(0,-1.5)(0,-1.6)(0,-1.9)};
\addplot[bxp, boxplot prepared={draw position=1.955, lower whisker=-1.5, lower quartile=-0.6, median=-0.25, upper quartile=0.0, upper whisker=0.9}] coordinates {(0,1.2)(0,1.5)(0,1.8)(0,2.3)(0,2.45)(0,2.6)(0,2.8)(0,-1.7)(0,-1.9)(0,-2.1)(0,-2.3)(0,-2.5)(0,-3.6)};
\addplot[bxp, boxplot prepared={draw position=2.045, lower whisker=-2.4, lower quartile=-0.4, median=0.6, upper quartile=1.3, upper whisker=3.4}] coordinates {(0,5.85)};
\addplot[bxp, boxplot prepared={draw position=2.955, lower whisker=-1.5, lower quartile=-0.25, median=0.15, upper quartile=0.65, upper whisker=1.7}] coordinates {(0,2.0)(0,2.3)(0,2.5)(0,2.7)(0,3.1)(0,3.5)(0,3.9)(0,4.3)(0,4.6)(0,4.7)(0,-1.6)(0,-1.8)(0,-2.0)(0,-2.2)(0,-2.35)};
\addplot[bxp, boxplot prepared={draw position=3.045, lower whisker=-1.7, lower quartile=0.85, median=2.05, upper quartile=3.0, upper whisker=5.65}] coordinates {(0,7.8)};
\addplot[bxp, boxplot prepared={draw position=3.955, lower whisker=-1.5, lower quartile=-0.75, median=-0.4, upper quartile=0.1, upper whisker=1.4}] coordinates {(0,2.5)(0,2.7)(0,2.9)(0,3.1)(0,3.4)(0,-1.7)(0,-1.9)(0,-2.1)(0,-2.3)(0,-2.5)(0,-2.7)(0,-2.9)(0,-3.1)};
\addplot[bxp, boxplot prepared={draw position=4.045, lower whisker=-1.45, lower quartile=1.05, median=2.0, upper quartile=2.9, upper whisker=5.1}] coordinates {(0,7.8)};
\addplot[black, line width=0.5pt, forget plot] coordinates {(0.83,7.5)(0.83,7.66)(1.17,7.66)(1.17,7.5)};
\addplot[black, line width=0.5pt, forget plot] coordinates {(1.83,7.5)(1.83,7.66)(2.17,7.66)(2.17,7.5)};
\addplot[black, line width=0.5pt, forget plot] coordinates {(2.83,8.44)(2.83,8.6)(3.17,8.6)(3.17,8.44)};
\addplot[black, line width=0.5pt, forget plot] coordinates {(3.83,8.44)(3.83,8.6)(4.17,8.6)(4.17,8.44)};
\node[font=\fontsize{10}{12}\selectfont, inner sep=0pt] at (axis cs:1.03,8.32) {r=0.368};
\node[font=\fontsize{10}{12}\selectfont, inner sep=0pt] at (axis cs:1.0,7.92) {<8.8e-16};
\node[font=\fontsize{10}{12}\selectfont, inner sep=0pt] at (axis cs:2.03,8.32) {r=0.382};
\node[font=\fontsize{10}{12}\selectfont, inner sep=0pt] at (axis cs:2.0,7.92) {<8.8e-16};
\node[font=\fontsize{10}{12}\selectfont, inner sep=0pt] at (axis cs:3.03,9.26) {r=0.568};
\node[font=\fontsize{10}{12}\selectfont, inner sep=0pt] at (axis cs:3.0,8.86) {<8.8e-16};
\node[font=\fontsize{10}{12}\selectfont, inner sep=0pt] at (axis cs:4.03,9.26) {r=0.665};
\node[font=\fontsize{10}{12}\selectfont, inner sep=0pt] at (axis cs:4.0,8.86) {<8.8e-16};
\end{axis}
\begin{scope}[every node/.style={font=\fontsize{10}{12}\selectfont, inner sep=0pt}]
\node[anchor=base east] at (86pt,61pt) {Overexpression:};
\node[anchor=base east] at (86pt,41pt) {NaIO\textsubscript{4} treatment:};
\node[anchor=base] at (117pt,61pt) {Siwi};
\node[anchor=base] at (172pt,61pt) {Siwi};
\node[anchor=base] at (226pt,61pt) {Siwi-};
\node[anchor=base] at (226pt,52pt) {D670A};
\node[anchor=base] at (283pt,61pt) {Siwi-};
\node[anchor=base] at (283pt,52pt) {D670A};
\node[anchor=base] at (117pt,41pt) {–};
\node[anchor=base] at (172pt,41pt) {+};
\node[anchor=base] at (226pt,41pt) {–};
\node[anchor=base] at (282pt,41pt) {+};
\end{scope}

% ===== D =====
\begin{axis}[gg, at={(443pt,41pt)}, width=254pt, height=110pt, xmin=18.75, xmax=46.25, ymin=-6400, ymax=134400,
  xtick={20,25,30,35,40,45}, xticklabels={20,25,30,35,40,45}, ytick={0,50000,100000}, yticklabels={0,50000,100000},
  minor xtick={22.5,27.5,32.5,37.5,42.5}, minor ytick={25000,75000,125000}, scaled ticks=false, grid=both,
  xlabel={Length(nt)}, ylabel={RPM},
  xlabel style={at={(axis description cs:0.5,-0.218)}, anchor=center},
  ylabel style={at={(axis description cs:-0.189,0.5)}, anchor=center},
  legend cell align=left,
  legend image code/.code={\draw[#1] (0pt,0pt) -- (11pt,0pt);},
  legend style={at={(axis description cs:1,1)}, anchor=north east, xshift=-2pt, yshift=-2pt, draw=black!65, line width=0.8pt, fill=white,
    font=\fontsize{8.5}{10}\selectfont, inner xsep=4pt, inner ysep=5pt, row sep=1.5pt, nodes={inner sep=1pt, text height=7pt, text depth=2.5pt}}]
\addplot[dA, line width=1.2pt] coordinates {(20,34000)(21,12000)(22,8000)(23,6500)(24,7000)(25,13000)(26,30000)(27,66000)(28,61000)(29,15000)(30,3500)(31,1500)(32,1000)(33,800)(34,600)(35,500)(36,400)(37,300)(38,250)(39,200)(40,200)(41,150)(42,150)(43,100)(44,100)(45,100)};
\addlegendentry{mCherry[NaIO\textsubscript{4}–]}
\addplot[dB, line width=1.2pt] coordinates {(20,12000)(21,7000)(22,6000)(23,5000)(24,6000)(25,14000)(26,34000)(27,112000)(28,105000)(29,23000)(30,3000)(31,1200)(32,800)(33,600)(34,500)(35,400)(36,300)(37,250)(38,200)(39,150)(40,150)(41,100)(42,100)(43,100)(44,100)(45,100)};
\addlegendentry{mCherry[NaIO\textsubscript{4}+]}
\addplot[dC, line width=1.2pt] coordinates {(20,40000)(21,13000)(22,8000)(23,6500)(24,7000)(25,12000)(26,25000)(27,49000)(28,54000)(29,20000)(30,3500)(31,1500)(32,1000)(33,800)(34,600)(35,500)(36,400)(37,300)(38,250)(39,200)(40,200)(41,150)(42,150)(43,100)(44,100)(45,100)};
\addlegendentry{mCherry−Siwi[NaIO\textsubscript{4}–]}
\addplot[dD, line width=1.2pt] coordinates {(20,15000)(21,8000)(22,6000)(23,5000)(24,6000)(25,13000)(26,33000)(27,112000)(28,107000)(29,25000)(30,3000)(31,1200)(32,800)(33,600)(34,500)(35,400)(36,300)(37,250)(38,200)(39,150)(40,150)(41,100)(42,100)(43,100)(44,100)(45,100)};
\addlegendentry{mCherry−Siwi[NaIO\textsubscript{4}+]}
\addplot[dE, line width=1.2pt] coordinates {(20,48000)(21,14000)(22,8500)(23,7000)(24,7500)(25,12000)(26,27000)(27,60000)(28,60000)(29,18000)(30,3500)(31,1500)(32,1000)(33,800)(34,600)(35,500)(36,400)(37,300)(38,250)(39,200)(40,200)(41,150)(42,150)(43,100)(44,100)(45,100)};
\addlegendentry{mCherry−Siwi(D670A)[NaIO\textsubscript{4}–]}
\addplot[dF, line width=1.2pt] coordinates {(20,20000)(21,9000)(22,6500)(23,5500)(24,6500)(25,12000)(26,29500)(27,115000)(28,128000)(29,34000)(30,3000)(31,1200)(32,800)(33,600)(34,500)(35,400)(36,300)(37,250)(38,200)(39,150)(40,150)(41,100)(42,100)(43,100)(44,100)(45,100)};
\addlegendentry{mCherry−Siwi(D670A)[NaIO\textsubscript{4}+]}
\end{axis}
\end{tikzpicture}
\end{document}
